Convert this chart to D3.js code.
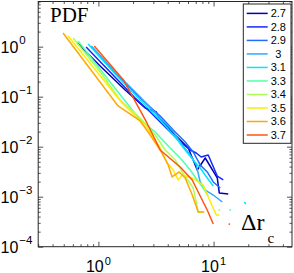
<!DOCTYPE html>
<html><head><meta charset="utf-8">
<script src="https://cdn.jsdelivr.net/npm/d3@7"></script>
<style>
html,body{margin:0;padding:0;background:#fff;}
svg{display:block;}
</style></head>
<body>
<svg id="chart" width="294" height="273"></svg>
<script>
// ---- data ----
const categories = ["2.7","2.8","2.9","3","3.1","3.3","3.4","3.5","3.6","3.7"];
const seriesColors = ["#0000b8","#1428ff","#1f6cff","#31a8ff","#00e6ff","#52ffae","#aaff58","#ffec00","#ffa800","#ff5410"];

const x_2_7 = [0.653,1.035,1.707,2.547,3.18,3.37,4.20,6.03,7.21,8.47,10.77,11.21,13.42];
const y_2_7 = [1.19,0.411,0.136,0.0594,0.0494,0.0375,0.0216,0.00942,0.00342,0.00594,0.00237,0.00119,0.00113];

const x_2_8 = [0.782,1.264,2.085,2.816,3.80,5.13,6.27,7.07,7.81,8.99,10.77,12.14];
const y_2_8 = [0.986,0.312,0.0942,0.0494,0.0248,0.0124,0.00859,0.00748,0.00622,0.00682,0.00259,0.00216];

const x_2_9 = [0.881,1.483,2.305,3.44,4.64,5.67,6.66,7.66,8.81,9.94,11.43];
const y_2_9 = [0.986,0.259,0.0942,0.0411,0.0197,0.0124,0.00783,0.00431,0.00312,0.00197,0.00149];

const x_3_0 = [0.864,1.397,2.305,3.44,4.37,5.34,6.27,7.07,7.66,8.47,9.94,11.91];
const y_3_0 = [1.03,0.312,0.0986,0.0375,0.0216,0.0108,0.00682,0.00431,0.00197,0.00136,0.00108,0.000783];

const x_3_1 = [0.814,1.397,2.305,3.44,4.64,5.67,6.66,7.66,8.81,9.94,null,18.5,19.1];
const y_3_1 = [1.13,0.284,0.0859,0.0342,0.0156,0.00859,0.00542,0.00375,0.00237,0.00164,null,0.000783,0.000714];

const x_3_3 = [0.666,1.264,2.305,3.11,4.20,5.13,6.27,7.21,8.13,8.99,null,13.97];
const y_3_3 = [1.30,0.197,0.0342,0.0197,0.00942,0.00594,0.00342,0.00216,0.00149,0.00103,null,0.000542];

const x_3_4 = [0.603,1.035,1.544,2.305,3.11,3.80,4.64,5.34,6.66,7.36,8.13,null,11.21];
const y_3_4 = [1.49,0.312,0.0859,0.0375,0.0171,0.00859,0.00542,0.00312,0.00149,0.000494,0.000494,null,0.000542];

const x_3_5 = [0.545,1.607,2.652,3.44,3.95,4.46,4.93,5.34,6.53,8.13,8.99,10.56,11.21];
const y_3_5 = [1.64,0.0748,0.0237,0.00942,0.00472,0.00342,0.00216,0.00272,0.00237,0.00171,0.000986,0.00043,0.00043];

const x_3_6 = [0.493,1.483,2.305,2.816,3.44,4.04,4.37,5.03,5.67,6.53,7.36,8.30];
const y_3_6 = [1.88,0.0652,0.0327,0.0171,0.00859,0.00431,0.00248,0.00312,0.00237,0.00108,0.000494,0.000494];

const x_3_7 = [0.92,1.65,2.64,3.44,5.13,6.53,7.21,8.81,9.94,null,13.7];
const y_3_7 = [1.03,0.216,0.0298,0.0086,0.00393,0.00216,0.00136,0.000542,0.000284,null,0.000284];

const seriesX = [x_2_7,x_2_8,x_2_9,x_3_0,x_3_1,x_3_3,x_3_4,x_3_5,x_3_6,x_3_7];
const seriesY = [y_2_7,y_2_8,y_2_9,y_3_0,y_3_1,y_3_3,y_3_4,y_3_5,y_3_6,y_3_7];

const xTickExps = [0, 1];
const yTickExps = [0, -1, -2, -3, -4];
const yLabelText = "PDF";
const xLabelMain = "\u0394r";
const xLabelSub = "c";

// ---- layout ----
const svg = d3.select("#chart");
const L = 38.2, R = 292, T = 1.5, B = 246.7;
const x = d3.scaleLog().domain([0.3, 48]).range([L, R]);
const y = d3.scaleLog().domain([1e-4, 8]).range([B, T]);
const axisColor = "#262626";
const font = "'Liberation Sans', Arial, Helvetica, sans-serif";
const serif = "'Liberation Serif', 'Times New Roman', serif";

svg.append("defs").append("clipPath").attr("id","clip")
  .append("rect").attr("x",L).attr("y",T).attr("width",R-L).attr("height",B-T);

// lines
const plot = svg.append("g").attr("clip-path","url(#clip)");
const line = d3.line().defined(d => d[0] != null && d[1] != null)
  .x(d => x(d[0])).y(d => y(d[1]));
seriesX.forEach((xs, i) => {
  const pts = xs.map((v, j) => [v, seriesY[i][j]]);
  plot.append("path").attr("d", line(pts)).attr("fill","none")
    .attr("stroke", seriesColors[i]).attr("stroke-width", 1.5)
    .attr("stroke-linejoin","round");
  // isolated points
  pts.forEach((p, j) => {
    if (p[0] == null) return;
    const prev = j > 0 && pts[j-1][0] != null;
    const next = j < pts.length-1 && pts[j+1][0] != null;
    if (!prev && !next) {
      plot.append("circle").attr("cx", x(p[0])).attr("cy", y(p[1])).attr("r", 0.9)
        .attr("fill", seriesColors[i]);
    }
  });
});

// axes ticks
const xMinor = x.ticks().filter(v => { const e = Math.log10(v); return Math.abs(e - Math.round(e)) > 1e-9; });
const xMajor = xTickExps.map(e => Math.pow(10, e));
const yMinor = y.ticks().filter(v => { const e = Math.log10(v); return Math.abs(e - Math.round(e)) > 1e-9; });
const yMajor = yTickExps.map(e => Math.pow(10, e));

function styleAxis(g){
  g.select(".domain").remove();
  g.selectAll(".tick line").attr("stroke", axisColor).attr("stroke-width", 0.8);
  g.selectAll(".tick text").remove();
}
const axes = [
  [d3.axisBottom(x), `translate(0,${B})`, xMajor, xMinor],
  [d3.axisTop(x), `translate(0,${T})`, xMajor, xMinor],
  [d3.axisLeft(y), `translate(${L},0)`, yMajor, yMinor],
  [d3.axisRight(y), `translate(${R},0)`, yMajor, yMinor]
];
axes.forEach(([ax, tr, maj, min]) => {
  svg.append("g").attr("transform", tr).call(ax.tickValues(maj).tickSize(-5).tickFormat("")).call(styleAxis);
  svg.append("g").attr("transform", tr).call(ax.tickValues(min).tickSize(-2.5).tickFormat("")).call(styleAxis);
});

// box
svg.append("rect").attr("x",L).attr("y",T).attr("width",R-L).attr("height",B-T)
  .attr("fill","none").attr("stroke",axisColor).attr("stroke-width",1);

// tick labels
xTickExps.forEach(e => {
  const t = svg.append("text").attr("x", x(Math.pow(10,e))).attr("y", 271.5)
    .attr("text-anchor","middle").attr("font-family", font).attr("font-size", 16).attr("fill","#000");
  t.append("tspan").text("10");
  t.append("tspan").attr("dy", -7).attr("dx", 1).attr("font-size", 11).text(e < 0 ? "\u2212" + (-e) : String(e));
});
yTickExps.forEach(e => {
  const py = y(Math.pow(10,e));
  const t = svg.append("text").attr("x", 0.5).attr("y", py + 6.5)
    .attr("text-anchor","start").attr("font-family", font).attr("font-size", 16).attr("fill","#000");
  t.append("tspan").text("10");
  t.append("tspan").attr("dy", -9).attr("dx", 1).attr("font-size", 11.5).text(e < 0 ? "\u2212" + (-e) : String(e));
});

// axis titles inside
svg.append("text").attr("x", 50).attr("y", 22).attr("font-family", serif)
  .attr("font-size", 21).attr("fill","#000").text(yLabelText);
svg.append("text").attr("x", 241).attr("y", 229.5).attr("font-family", serif)
  .attr("font-size", 24).attr("fill","#000").text(xLabelMain);
svg.append("text").attr("x", 267.5).attr("y", 242.7).attr("font-family", serif)
  .attr("font-size", 15).attr("fill","#000").text(xLabelSub);

// legend
const lg = svg.append("g");
const lgL = 243.3, lgT = 4, lgR = 291, lgB = 143.3;
lg.append("rect").attr("x", lgL).attr("y", lgT).attr("width", lgR-lgL).attr("height", lgB-lgT)
  .attr("fill","#fff").attr("stroke", axisColor).attr("stroke-width", 1);
const rowY = d3.scaleLinear().domain([0, categories.length-1]).range([13.4, 135]);
categories.forEach((c, i) => {
  const yy = rowY(i);
  lg.append("line").attr("x1", 246.7).attr("x2", 267.7).attr("y1", yy).attr("y2", yy)
    .attr("stroke", seriesColors[i]).attr("stroke-width", 1.5);
  lg.append("text").attr("x", 278.3).attr("y", yy + 4).attr("text-anchor","middle")
    .attr("font-family", font).attr("font-size", 11).attr("fill","#000").text(c);
});
</script>
</body></html>
